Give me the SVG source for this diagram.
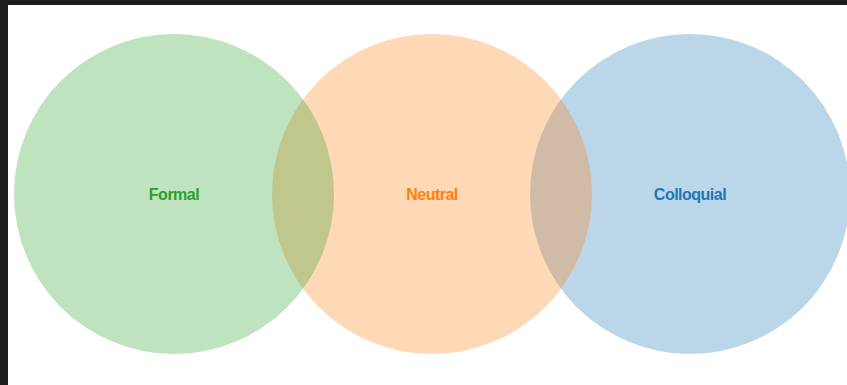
<svg xmlns="http://www.w3.org/2000/svg" width="847" height="385" viewBox="0 0 847 385">
<style>
.c{fill-opacity:0.3;stroke:none}
.t{font-family:"Liberation Sans",Arial,sans-serif;font-size:16px;font-weight:bold;text-anchor:middle;letter-spacing:-0.5px}
</style>
<rect x="0" y="0" width="847" height="385" fill="#ffffff"/>
<rect x="0" y="0" width="847" height="5" fill="#1e1e1e"/>
<rect x="0" y="0" width="8" height="385" fill="#1e1e1e"/>
<g id="colloquial">
<circle class="c" cx="690" cy="194" r="160" fill="#1f77b4"/>
<text class="t" x="690" y="200" fill="#1f77b4">Colloquial</text>
</g>
<g id="neutral">
<circle class="c" cx="432" cy="194" r="160" fill="#ff7f0e"/>
<text class="t" x="432" y="200" fill="#ff7f0e">Neutral</text>
</g>
<g id="formal">
<circle class="c" cx="174" cy="194" r="160" fill="#2ca02c"/>
<text class="t" x="174" y="200" fill="#2ca02c">Formal</text>
</g>
<g id="connectors"></g>
</svg>
